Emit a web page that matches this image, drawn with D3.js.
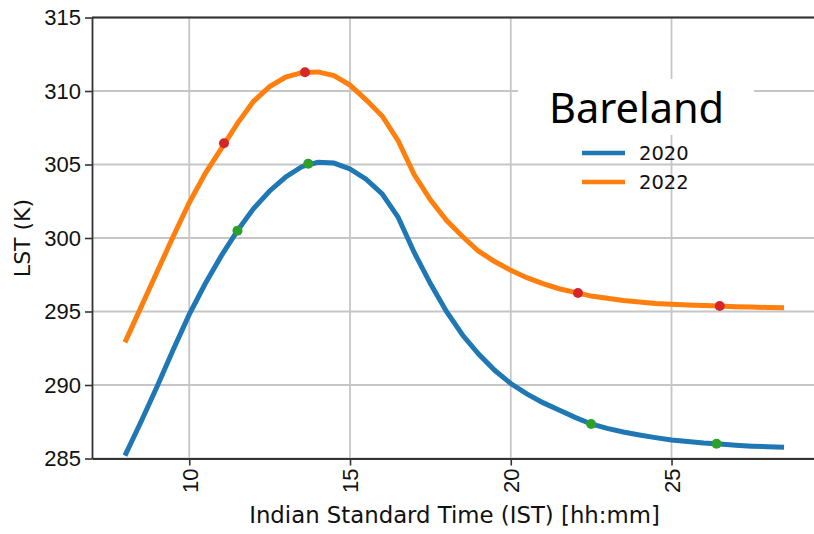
<!DOCTYPE html>
<html>
<head>
<meta charset="utf-8">
<script src="https://cdn.jsdelivr.net/npm/d3@7"></script>
<style>
  body { margin: 0; background: #fff; }
  svg { display: block; }
</style>
</head>
<body>
<div id="chart"></div>
<script>
// hours of the day (IST)
const hours = [8, 8.5, 9, 9.5, 10, 10.5, 11, 11.5, 12, 12.5, 13, 13.5, 14, 14.5, 15, 15.5,
  16, 16.5, 17, 17.5, 18, 18.5, 19, 19.5, 20, 20.5, 21, 21.5, 22, 22.5, 23, 23.5,
  24, 24.5, 25, 25.5, 26, 26.5, 27, 27.5, 28, 28.5];

const lst2020 = [285.2, 287.5, 289.9, 292.4, 294.8, 296.9, 298.8, 300.5, 302.0, 303.2, 304.15, 304.85,
  305.15, 305.1, 304.7, 304.0, 303.0, 301.4, 299.0, 296.9, 295.0, 293.4, 292.1, 291.0,
  290.1, 289.4, 288.8, 288.3, 287.8, 287.35, 287.05, 286.8, 286.6, 286.42, 286.26, 286.15,
  286.05, 285.98, 285.9, 285.84, 285.8, 285.76];

const lst2022 = [292.9, 295.3, 297.7, 300.1, 302.4, 304.4, 306.1, 307.8, 309.3, 310.3, 310.95, 311.25,
  311.3, 311.05, 310.4, 309.4, 308.3, 306.6, 304.3, 302.6, 301.2, 300.1, 299.1, 298.4,
  297.8, 297.3, 296.9, 296.55, 296.3, 296.05, 295.9, 295.75, 295.65, 295.55, 295.5, 295.45,
  295.4, 295.37, 295.33, 295.3, 295.27, 295.25];

// highlighted points
const mark2020x = [11.5, 13.7, 22.5, 26.4];
const mark2020y = [300.5, 305.05, 287.35, 286.0];
const mark2022x = [11.08, 13.6, 22.09, 26.5];
const mark2022y = [306.45, 311.27, 296.26, 295.37];

const xTicks = [10, 15, 20, 25];
const yTicks = [285, 290, 295, 300, 305, 310, 315];

const width = 814;
const height = 534;
const marginLeft = 92;
const plotRight = 817;   // right spine falls just outside the picture
const marginTop = 17.5;
const plotBottom = 458.5;

const xScale = d3.scaleLinear().domain([6.975, 29.525]).range([marginLeft, plotRight]);
const yScale = d3.scaleLinear().domain([285, 315]).range([plotBottom, marginTop]);

const svg = d3.select("#chart")
  .append("svg")
  .attr("width", width)
  .attr("height", height)
  .style("font-family", "'DejaVu Sans', sans-serif");

// grid
const grid = svg.append("g").attr("stroke", "#c6c6c6").attr("stroke-width", 1.8);
grid.selectAll("line.gx")
  .data(xTicks)
  .join("line")
  .attr("x1", d => xScale(d)).attr("x2", d => xScale(d))
  .attr("y1", marginTop).attr("y2", plotBottom);
grid.selectAll("line.gy")
  .data(yTicks)
  .join("line")
  .attr("class", "gy")
  .attr("y1", d => yScale(d)).attr("y2", d => yScale(d))
  .attr("x1", marginLeft).attr("x2", plotRight);

// lines
const line = d3.line().x(d => xScale(d[0])).y(d => yScale(d[1]));

svg.append("path")
  .datum(hours.map((h, i) => [h, lst2020[i]]))
  .attr("d", line)
  .attr("fill", "none")
  .attr("stroke", "#1f77b4")
  .attr("stroke-width", 5);

svg.append("path")
  .datum(hours.map((h, i) => [h, lst2022[i]]))
  .attr("d", line)
  .attr("fill", "none")
  .attr("stroke", "#ff7f0e")
  .attr("stroke-width", 5);

// markers
svg.selectAll("circle.m20")
  .data(mark2020x.map((x, i) => [x, mark2020y[i]]))
  .join("circle")
  .attr("class", "m20")
  .attr("cx", d => xScale(d[0]))
  .attr("cy", d => yScale(d[1]))
  .attr("r", 5)
  .attr("fill", "#2ca02c");

svg.selectAll("circle.m22")
  .data(mark2022x.map((x, i) => [x, mark2022y[i]]))
  .join("circle")
  .attr("class", "m22")
  .attr("cx", d => xScale(d[0]))
  .attr("cy", d => yScale(d[1]))
  .attr("r", 5)
  .attr("fill", "#d62728");

// axes
const xAxis = d3.axisBottom(xScale).tickValues(xTicks).tickSize(7).tickSizeOuter(0).tickPadding(6);
const gx = svg.append("g")
  .attr("transform", `translate(0,${plotBottom})`)
  .call(xAxis);
gx.selectAll("text")
  .attr("font-size", 22)
  .attr("fill", "#111")
  .attr("text-anchor", "end")
  .attr("transform", "translate(0,10) rotate(-90)")
  .attr("x", 0)
  .attr("y", 0)
  .attr("dy", "0.36em")
  .attr("dx", 0);

const yAxis = d3.axisLeft(yScale).tickValues(yTicks).tickSize(7).tickSizeOuter(0).tickPadding(4);
const gy = svg.append("g")
  .attr("transform", `translate(${marginLeft},0)`)
  .call(yAxis);
gy.selectAll("text").attr("font-size", 22).attr("fill", "#111");

svg.selectAll(".domain").attr("stroke", "#333").attr("stroke-width", 1.8);
svg.selectAll(".tick line").attr("stroke", "#333").attr("stroke-width", 1.6);

// top spine
svg.append("line")
  .attr("x1", marginLeft).attr("x2", plotRight)
  .attr("y1", marginTop).attr("y2", marginTop)
  .attr("stroke", "#333").attr("stroke-width", 1.8);

// axis labels
svg.append("text")
  .attr("x", (marginLeft + plotRight) / 2)
  .attr("y", 523)
  .attr("text-anchor", "middle")
  .attr("font-size", 22.8)
  .attr("fill", "#111")
  .text("Indian Standard Time (IST) [hh:mm]");

svg.append("text")
  .attr("transform", `translate(30,${(marginTop + plotBottom) / 2}) rotate(-90)`)
  .attr("text-anchor", "middle")
  .attr("font-size", 22)
  .attr("fill", "#111")
  .text("LST (K)");

// title box
svg.append("rect")
  .attr("x", 518).attr("y", 79)
  .attr("width", 236).attr("height", 56)
  .attr("fill", "#fff");
svg.append("text")
  .attr("x", 549).attr("y", 123)
  .attr("font-family", "'Noto Sans', sans-serif")
  .attr("font-size", 41.5)
  .attr("fill", "#000")
  .text("Bareland");

// legend
const legendItems = [
  { label: "2020", color: "#1f77b4", y: 153 },
  { label: "2022", color: "#ff7f0e", y: 182 }
];
const lg = svg.append("g");
lg.selectAll("line")
  .data(legendItems)
  .join("line")
  .attr("x1", 582).attr("x2", 625)
  .attr("y1", d => d.y).attr("y2", d => d.y)
  .attr("stroke", d => d.color)
  .attr("stroke-width", 4.5);
lg.selectAll("text")
  .data(legendItems)
  .join("text")
  .attr("x", 639)
  .attr("y", d => d.y)
  .attr("dy", "0.36em")
  .attr("font-size", 19.5)
  .attr("fill", "#111")
  .text(d => d.label);
</script>
</body>
</html>
